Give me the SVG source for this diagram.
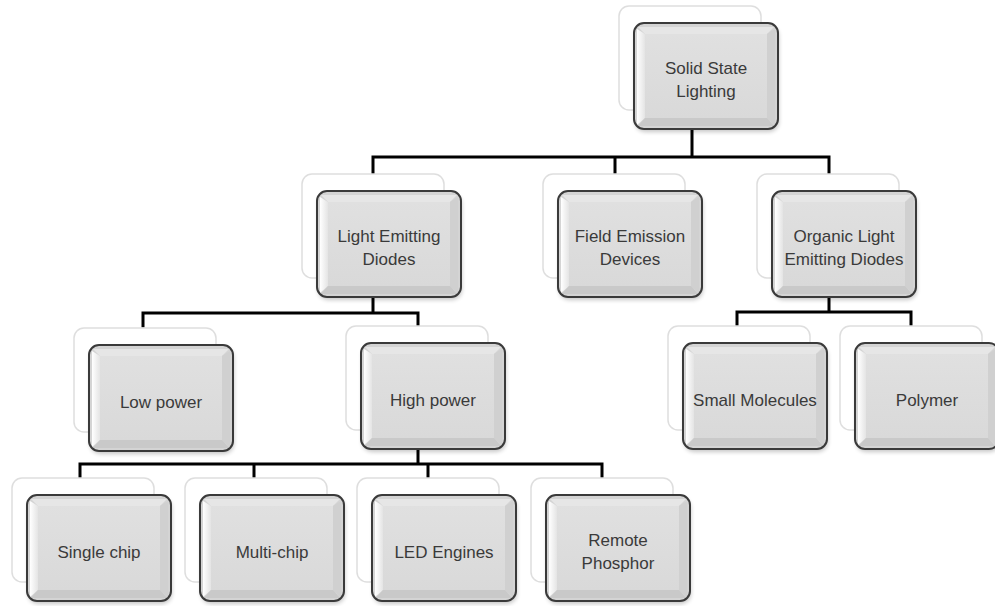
<svg xmlns="http://www.w3.org/2000/svg" xmlns:xlink="http://www.w3.org/1999/xlink" width="995" height="606" viewBox="0 0 995 606">
  <style>
    .lbl { font-family: "Liberation Sans", Arial, sans-serif; font-size: 17px; fill: #3a3a3a; text-anchor: middle; }
    .wire { fill: none; stroke: #000; stroke-width: 3; stroke-linejoin: miter; stroke-linecap: square; }
  </style>
  <defs>
    <filter id="soft" x="-20%" y="-20%" width="140%" height="140%">
      <feGaussianBlur stdDeviation="2"/>
    </filter>
    <linearGradient id="leftEdge" x1="0" y1="0" x2="1" y2="0">
      <stop offset="0" stop-color="#ffffff"/>
      <stop offset="1" stop-color="#e4e4e4"/>
    </linearGradient>
    <linearGradient id="face" x1="0" y1="0" x2="0" y2="1">
      <stop offset="0" stop-color="#e0e0e0"/>
      <stop offset="1" stop-color="#d9d9d9"/>
    </linearGradient>
    <!-- one bevelled card with its pale backing card; origin = top-left of the front card -->
    <g id="card">
      <rect x="-15" y="-17" width="142" height="104" rx="10" fill="#ffffff" stroke="#dedede" stroke-width="1.5"/>
      <rect x="1" y="3" width="144" height="106" rx="10" fill="#000" opacity="0.22" filter="url(#soft)"/>
      <rect x="0" y="0" width="144" height="106" rx="10" fill="#d4d4d4"/>
      <!-- bevel strips -->
      <path d="M4,4 L140,4 L133,11 L11,11 Z" fill="#e6e6e6"/>
      <path d="M3,6 L11,11 L11,95 L3,102 Z" fill="url(#leftEdge)"/>
      <path d="M141,6 L133,11 L133,95 L141,102 Z" fill="#d0d0d0"/>
      <path d="M4,103 L11,95 L133,95 L140,103 Z" fill="#c9c9c9"/>
      <rect x="11" y="11" width="122" height="84" fill="url(#face)"/>
      <rect x="0" y="0" width="144" height="106" rx="10" fill="none" stroke="#3a3a3a" stroke-width="2"/>
    </g>
  </defs>

  <!-- tree connectors -->
  <g id="connectors" class="wire">
    <path d="M692,128 V157 M373,174 V157 H829 V174 M615,157 V174"/>
    <path d="M373,297 V313 M143,326 V313 H418 V326"/>
    <path d="M829,297 V312 M737,326 V312 H911 V326"/>
    <path d="M418,450 V464 M80,479 V464 H602 V479 M254,464 V479 M428,464 V479"/>
  </g>

  <g id="solid-state-lighting" transform="translate(634,23)">
    <use xlink:href="#card"/>
    <text class="lbl" x="72" y="51">Solid State</text>
    <text class="lbl" x="72" y="74">Lighting</text>
  </g>

  <g id="light-emitting-diodes" transform="translate(317,191)">
    <use xlink:href="#card"/>
    <text class="lbl" x="72" y="51">Light Emitting</text>
    <text class="lbl" x="72" y="74">Diodes</text>
  </g>

  <g id="field-emission-devices" transform="translate(558,191)">
    <use xlink:href="#card"/>
    <text class="lbl" x="72" y="51">Field Emission</text>
    <text class="lbl" x="72" y="74">Devices</text>
  </g>

  <g id="organic-led" transform="translate(772,191)">
    <use xlink:href="#card"/>
    <text class="lbl" x="72" y="51">Organic Light</text>
    <text class="lbl" x="72" y="74">Emitting Diodes</text>
  </g>

  <g id="low-power" transform="translate(89,345)">
    <use xlink:href="#card"/>
    <text class="lbl" x="72" y="63">Low power</text>
  </g>

  <g id="high-power" transform="translate(361,343)">
    <use xlink:href="#card"/>
    <text class="lbl" x="72" y="63">High power</text>
  </g>

  <g id="small-molecules" transform="translate(683,343)">
    <use xlink:href="#card"/>
    <text class="lbl" x="72" y="63">Small Molecules</text>
  </g>

  <g id="polymer" transform="translate(855,343)">
    <use xlink:href="#card"/>
    <text class="lbl" x="72" y="63">Polymer</text>
  </g>

  <g id="single-chip" transform="translate(27,495)">
    <use xlink:href="#card"/>
    <text class="lbl" x="72" y="63">Single chip</text>
  </g>

  <g id="multi-chip" transform="translate(200,495)">
    <use xlink:href="#card"/>
    <text class="lbl" x="72" y="63">Multi-chip</text>
  </g>

  <g id="led-engines" transform="translate(372,495)">
    <use xlink:href="#card"/>
    <text class="lbl" x="72" y="63">LED Engines</text>
  </g>

  <g id="remote-phosphor" transform="translate(546,495)">
    <use xlink:href="#card"/>
    <text class="lbl" x="72" y="51">Remote</text>
    <text class="lbl" x="72" y="74">Phosphor</text>
  </g>
</svg>
